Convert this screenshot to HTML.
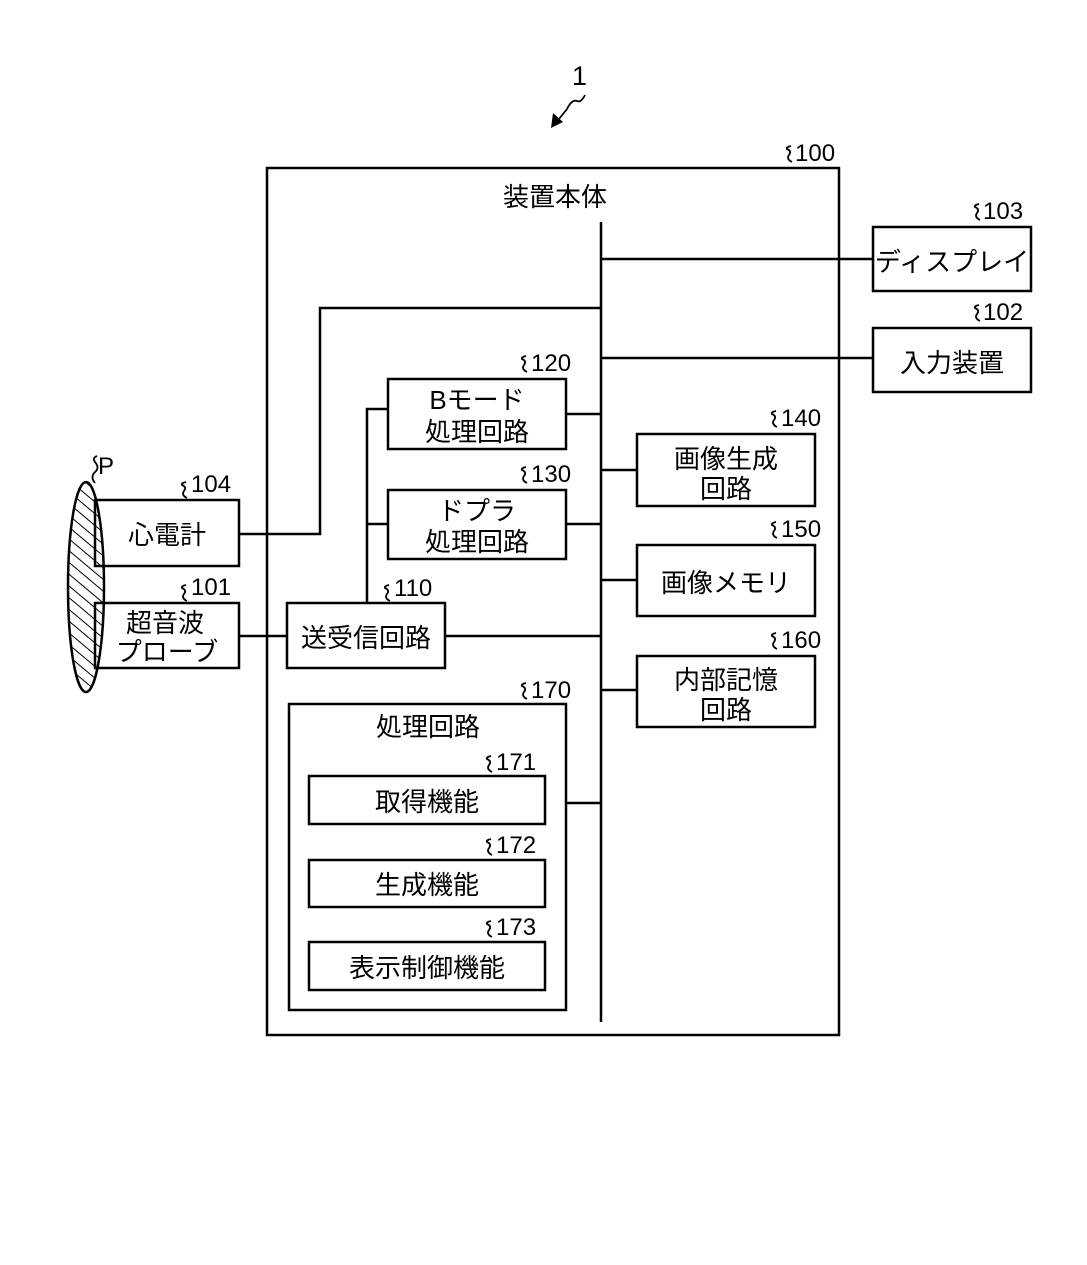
<!DOCTYPE html>
<html><head><meta charset="utf-8"><style>
html,body{margin:0;padding:0;background:#fff}
svg text{font-family:"Liberation Sans","Noto Sans CJK JP",sans-serif;fill:#000}
</style></head><body>
<svg width="1087" height="1260" viewBox="0 0 1087 1260" xmlns="http://www.w3.org/2000/svg">
<defs>
<pattern id="h" width="9" height="9" patternUnits="userSpaceOnUse" patternTransform="rotate(-50)">
<line x1="0" y1="0" x2="0" y2="9" stroke="#000" stroke-width="2"/>
</pattern>
</defs>
<g fill="none" stroke="#000" stroke-width="2.5">
<rect x="267" y="168" width="572" height="867"/>
<line x1="601" y1="222" x2="601" y2="1022"/>
<rect x="873" y="227" width="158" height="64"/>
<rect x="873" y="328" width="158" height="64"/>
<line x1="601" y1="259" x2="873" y2="259"/>
<line x1="601" y1="358" x2="873" y2="358"/>
<polyline points="239,534 320,534 320,308 601,308"/>
<rect x="388" y="379" width="178" height="70"/>
<rect x="388" y="490" width="178" height="69"/>
<line x1="566" y1="414" x2="601" y2="414"/>
<line x1="566" y1="524" x2="601" y2="524"/>
<polyline points="388,409 367,409 367,603"/>
<line x1="367" y1="524" x2="388" y2="524"/>
<rect x="287" y="603" width="158" height="65"/>
<line x1="445" y1="636" x2="601" y2="636"/>
<line x1="239" y1="636" x2="287" y2="636"/>
<rect x="637" y="434" width="178" height="72"/>
<rect x="637" y="545" width="178" height="71"/>
<rect x="637" y="656" width="178" height="71"/>
<line x1="601" y1="470" x2="637" y2="470"/>
<line x1="601" y1="580" x2="637" y2="580"/>
<line x1="601" y1="690" x2="637" y2="690"/>
<rect x="289" y="704" width="277" height="306"/>
<line x1="566" y1="803" x2="601" y2="803"/>
<rect x="309" y="776" width="236" height="48"/>
<rect x="309" y="860" width="236" height="47"/>
<rect x="309" y="942" width="236" height="48"/>
<rect x="95" y="500" width="144" height="66"/>
<rect x="95" y="603" width="144" height="65"/>
<ellipse cx="86" cy="587" rx="18" ry="105" fill="url(#h)"/>
</g>
<g fill="none" stroke="#000" stroke-width="1.8">
<path d="M585,95 q-4,8 -8,6 q-5,-2 -10,8 L555,124"/>
<path d="M95,483 q-5,-6 0,-11 q5,-4 0,-10 q-3,-4 2,-6"/>
<path d="M792,162 q-6,-3 -3,-7 q3,-4 -2,-6 q-1,-2 4,-3"/>
<path d="M980,220 q-6,-3 -3,-7 q3,-4 -2,-6 q-1,-2 4,-3"/>
<path d="M980,321 q-6,-3 -3,-7 q3,-4 -2,-6 q-1,-2 4,-3"/>
<path d="M527,372 q-6,-3 -3,-7 q3,-4 -2,-6 q-1,-2 4,-3"/>
<path d="M527,483 q-6,-3 -3,-7 q3,-4 -2,-6 q-1,-2 4,-3"/>
<path d="M777,427 q-6,-3 -3,-7 q3,-4 -2,-6 q-1,-2 4,-3"/>
<path d="M777,538 q-6,-3 -3,-7 q3,-4 -2,-6 q-1,-2 4,-3"/>
<path d="M777,649 q-6,-3 -3,-7 q3,-4 -2,-6 q-1,-2 4,-3"/>
<path d="M187,498 q-6,-3 -3,-7 q3,-4 -2,-6 q-1,-2 4,-3"/>
<path d="M187,601 q-6,-3 -3,-7 q3,-4 -2,-6 q-1,-2 4,-3"/>
<path d="M390,601 q-6,-3 -3,-7 q3,-4 -2,-6 q-1,-2 4,-3"/>
<path d="M527,699 q-6,-3 -3,-7 q3,-4 -2,-6 q-1,-2 4,-3"/>
<path d="M492,772 q-6,-3 -3,-7 q3,-4 -2,-6 q-1,-2 4,-3"/>
<path d="M492,855 q-6,-3 -3,-7 q3,-4 -2,-6 q-1,-2 4,-3"/>
<path d="M492,937 q-6,-3 -3,-7 q3,-4 -2,-6 q-1,-2 4,-3"/>
</g>
<polygon points="551,128 553,113 563,122" fill="#000"/>
<g font-size="24">
<text x="572" y="85" font-size="27">1</text>
<text x="98" y="474">P</text>
<text x="795" y="161">100</text>
<text x="983" y="219">103</text>
<text x="983" y="320">102</text>
<text x="531" y="371">120</text>
<text x="531" y="482">130</text>
<text x="781" y="426">140</text>
<text x="781" y="537">150</text>
<text x="781" y="648">160</text>
<text x="191" y="492">104</text>
<text x="191" y="595">101</text>
<text x="394" y="596">110</text>
<text x="531" y="698">170</text>
<text x="496" y="770">171</text>
<text x="496" y="853">172</text>
<text x="496" y="935">173</text>
</g>
<g font-size="26" text-anchor="middle">
<text x="555" y="206">装置本体</text>
<text x="952" y="271">ディスプレイ</text>
<text x="952" y="372">入力装置</text>
<text x="477" y="409">Bモード</text>
<text x="477" y="441">処理回路</text>
<text x="477" y="520">ドプラ</text>
<text x="477" y="551">処理回路</text>
<text x="726" y="468">画像生成</text>
<text x="726" y="498">回路</text>
<text x="726" y="592">画像メモリ</text>
<text x="726" y="689">内部記憶</text>
<text x="726" y="719">回路</text>
<text x="366" y="647">送受信回路</text>
<text x="167" y="544">心電計</text>
<text x="165" y="632">超音波</text>
<text x="167" y="661">プローブ</text>
<text x="428" y="736">処理回路</text>
<text x="427" y="811">取得機能</text>
<text x="427" y="894">生成機能</text>
<text x="427" y="977">表示制御機能</text>
</g>
</svg>
</body></html>
